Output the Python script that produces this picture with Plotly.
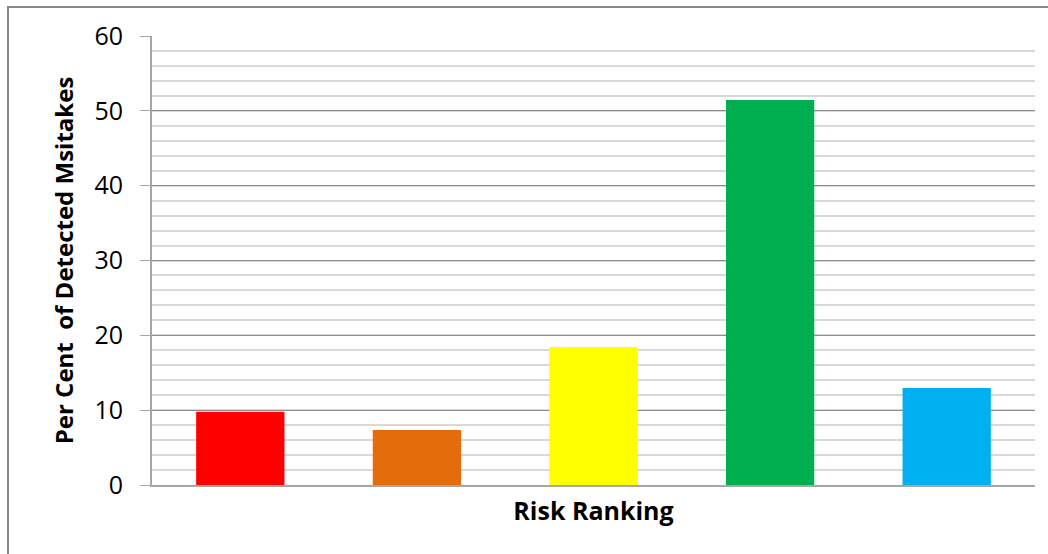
import plotly.graph_objects as go

categories = ["Very High", "High", "Medium", "Low", "Very Low"]
values = [9.8, 7.35, 18.45, 51.45, 12.95]
colors = ["#FF0000", "#E46C0A", "#FFFF00", "#00B050", "#00B0F0"]
y_ticks = [0, 10, 20, 30, 40, 50, 60]

fig = go.Figure(go.Bar(
    x=categories, y=values, marker=dict(color=colors, line=dict(width=0)),
    width=0.5, hoverinfo="y"))

fig.update_layout(
    width=1048, height=554,
    margin=dict(l=152, r=13, t=36, b=69),
    paper_bgcolor="white", plot_bgcolor="white",
    showlegend=False,
    font=dict(family="Open Sans", color="black"),
    xaxis=dict(
        showticklabels=False, ticks="", showgrid=False, zeroline=False,
        showline=True, linecolor="#A6A6A6", linewidth=2,
        title=dict(text="<b>Risk Ranking</b>", font=dict(size=25, family="Open Sans"), standoff=16),
        automargin=True,
    ),
    yaxis=dict(
        range=[0, 60], tickvals=y_ticks, ticktext=[str(v) for v in y_ticks],
        ticks="outside", ticklen=10, tickcolor="#A6A6A6", tickwidth=1,
        tickfont=dict(size=25, family="Open Sans"), ticklabelstandoff=12,
        showline=True, linecolor="#A6A6A6", linewidth=2,
        showgrid=True, gridcolor="#8C8C8C", gridwidth=1, zeroline=False,
        minor=dict(dtick=2, showgrid=True, gridcolor="#D9D9D9", gridwidth=2, ticks=""),
        title=dict(text="<b>Per Cent\u00a0\u00a0of Detected Msitakes</b>", font=dict(size=24, family="Open Sans"), standoff=14),
        automargin=True,
    ),
    shapes=[dict(type="rect", xref="paper", yref="paper",
                 x0=(8 - 152) / 883, x1=1.1, y0=-0.3, y1=(485 - 7) / 449,
                 line=dict(color="#878787", width=2), fillcolor="rgba(0,0,0,0)", layer="below")],
)

fig.write_html("out.html")
